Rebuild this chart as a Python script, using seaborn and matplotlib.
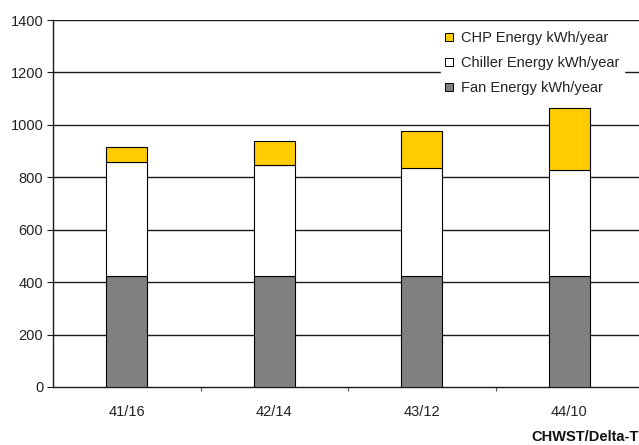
import matplotlib
matplotlib.use("Agg")
import matplotlib.pyplot as plt
from matplotlib.patches import Patch
import numpy as np
import pandas as pd
import seaborn as sns

# Annual energy per chilled-water supply temperature / delta-T option
categories = ["41/16", "42/14", "43/12", "44/10"]
fan_energy = [425, 425, 425, 425]
chiller_energy = [433, 422, 410, 403]
chp_energy = [57, 91, 142, 236]

series_names = ["CHP Energy kWh/year", "Chiller Energy kWh/year", "Fan Energy kWh/year"]
y_ticks = [0, 200, 400, 600, 800, 1000, 1200, 1400]

sns.set_theme(style="white")
plt.rcParams["font.family"] = ["Liberation Sans", "DejaVu Sans"]

df = pd.DataFrame({
    "option": categories,
    "fan": fan_energy,
    "chiller": chiller_energy,
    "chp": chp_energy,
})

fig = plt.figure(figsize=(6.39, 4.45), dpi=100)
ax = fig.add_axes([53 / 639, 58 / 445, 590 / 639, 367 / 445])

bar_w = 0.28
edge = dict(edgecolor="black", linewidth=0.8, zorder=3)

sns.barplot(data=df, x="option", y="fan", color="#808080", saturation=1,
            width=bar_w, ax=ax, **edge)
sns.barplot(data=df, x="option", y="chiller", color="white", saturation=1,
            width=bar_w, bottom=df["fan"].to_numpy(), ax=ax, **edge)
sns.barplot(data=df, x="option", y="chp", color="#FFCC00", saturation=1,
            width=bar_w, bottom=(df["fan"] + df["chiller"]).to_numpy(), ax=ax, **edge)

ax.set_xlim(-0.5, 3.5)
ax.set_ylim(0, 1400)
ax.set_yticks(y_ticks)
ax.set_yticklabels([str(t) for t in y_ticks], fontsize=10.5, color="#222222")
ax.set_xlabel("")
ax.set_ylabel("")

# horizontal grid lines behind bars
for t in y_ticks[1:]:
    ax.axhline(t, color="#1a1a1a", linewidth=1.0, zorder=1)

for side in ["top", "right"]:
    ax.spines[side].set_visible(False)
for side in ["left", "bottom"]:
    ax.spines[side].set_visible(True)
    ax.spines[side].set_color("#1a1a1a")
    ax.spines[side].set_linewidth(1.0)

ax.tick_params(axis="y", which="major", left=True, length=4, width=0.8,
               color="#1a1a1a", pad=3)
ax.tick_params(axis="x", which="major", bottom=False, length=0, pad=13,
               labelsize=10.5, labelcolor="#222222")
ax.set_xticks([0.5, 1.5, 2.5], minor=True)
ax.tick_params(axis="x", which="minor", bottom=True, length=3, width=0.8,
               color="#555555")

handles = [
    Patch(facecolor="#FFCC00", edgecolor="black", linewidth=0.7),
    Patch(facecolor="white", edgecolor="black", linewidth=0.7),
    Patch(facecolor="#808080", edgecolor="black", linewidth=0.7),
]
leg = fig.legend(handles, series_names, loc="upper left",
                 bbox_to_anchor=(441 / 639, 1 - 27 / 445),
                 fontsize=10.5, frameon=True, framealpha=1,
                 facecolor="white", edgecolor="white", fancybox=False,
                 handlelength=0.5, handleheight=0.5, handletextpad=0.6,
                 labelspacing=0.74, borderpad=0.3, borderaxespad=0)
for txt in leg.get_texts():
    txt.set_color("#222222")

fig.text(531 / 639, 1 - 437 / 445, "CHWST/Delta-T", ha="left", va="center",
         fontsize=10.5, fontweight="bold", color="#111111")

fig.savefig("out.png", dpi=100)
